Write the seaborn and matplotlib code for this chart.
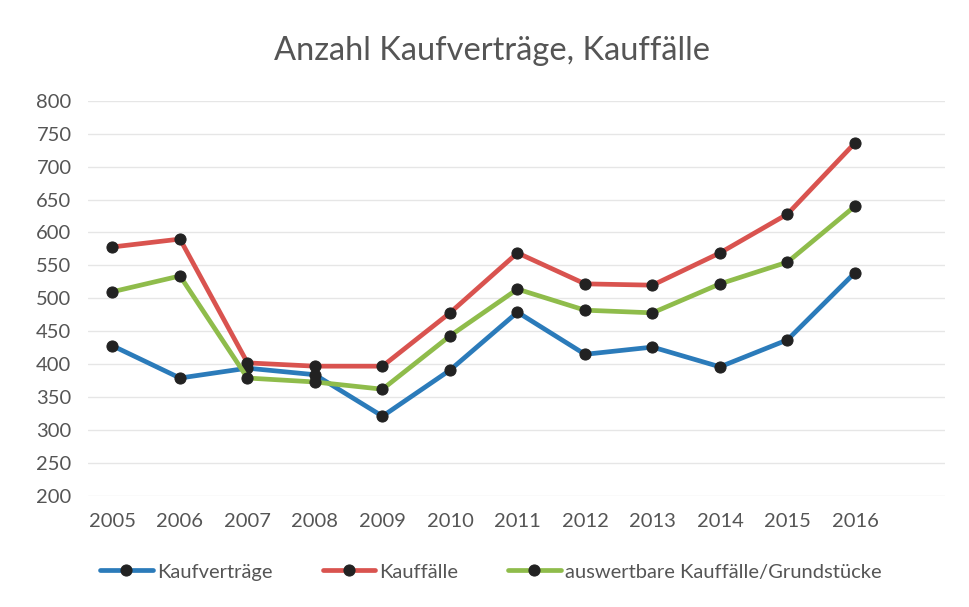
import seaborn as sns
import matplotlib.pyplot as plt
import pandas as pd

# Daten
jahre = [2005, 2006, 2007, 2008, 2009, 2010, 2011, 2012, 2013, 2014, 2015, 2016]
kaufvertraege = [428, 379, 394, 384, 321, 391, 479, 415, 426, 396, 437, 539]
kauffaelle = [578, 590, 402, 397, 397, 478, 569, 522, 520, 569, 628, 736]
auswertbare = [510, 534, 379, 373, 362, 443, 514, 482, 478, 522, 555, 640]

serien = ['Kaufverträge', 'Kauffälle', 'auswertbare Kauffälle/Grundstücke']
farben = ['#2b7bba', '#d9534f', '#8fbc4b']

df = pd.DataFrame({
    'Jahr': jahre * 3,
    'Wert': kaufvertraege + kauffaelle + auswertbare,
    'Serie': [serien[0]] * 12 + [serien[1]] * 12 + [serien[2]] * 12,
})

sns.set_style('white')
plt.rcParams['font.family'] = ['Lato', 'DejaVu Sans']

fig = plt.figure(figsize=(9.69, 6.07), dpi=100)
ax = fig.add_axes([0.091, 0.183, 0.884, 0.651])

# Hilfslinien
for y in range(200, 801, 50):
    ax.axhline(y, color='#e6e6e6', lw=1, zorder=0)

sns.lineplot(data=df, x='Jahr', y='Wert', hue='Serie', hue_order=serien,
             palette=farben, marker='o', markersize=8, linewidth=3.4,
             markerfacecolor='#222222', markeredgecolor='#222222', ax=ax)

ax.set_ylim(200, 800)
ax.set_xlim(2005 - 0.36, 2016 + 1.33)
ax.set_xticks(jahre)
ax.set_yticks(range(200, 801, 50))
ax.tick_params(axis='both', labelsize=14.5, colors='#555555', length=0)
ax.tick_params(axis='x', pad=12)
ax.tick_params(axis='y', pad=12)
ax.set_xlabel('')
ax.set_ylabel('')
for s in ax.spines.values():
    s.set_visible(False)

fig.suptitle('Anzahl Kaufverträge, Kauffälle', x=0.508, y=0.94,
             fontsize=23.5, color='#555555')

ax.legend(loc='upper center', bbox_to_anchor=(0.47, -0.125), ncol=3,
          frameon=False, fontsize=14.5, labelcolor='#555555',
          handlelength=2.6, handletextpad=0.2, columnspacing=2.5)

plt.savefig('out.png', dpi=100)
